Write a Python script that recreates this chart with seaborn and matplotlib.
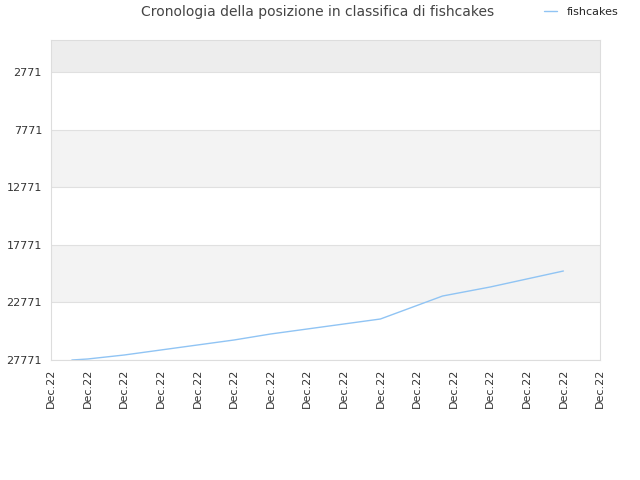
import matplotlib
matplotlib.use("Agg")
import matplotlib.pyplot as plt
import seaborn as sns
import pandas as pd

x_pos = [0.57, 1, 2, 3, 4, 5, 6, 7, 8, 9, 10.7, 12, 13, 14]
ranks = [27771, 27684, 27337, 26903, 26469, 26035, 25514, 25080, 24646, 24212, 22215, 21434, 20739, 20045]
yticks = [2771, 7771, 12771, 17771, 22771, 27771]
xlabels = ["Dec.22"] * 16

df = pd.DataFrame({"x": x_pos, "rank": ranks})
sns.set_style("white")
fig = plt.figure(figsize=(6.4, 4.8), dpi=100)
ax = fig.add_axes([51/640, 1-360/480, 549/640, 320/480])
ax.set_ylim(27771, -7)
ax.set_xlim(0, 15)
bands = [(-7, 2771, "#ededed"), (7771, 12771, "#f3f3f3"), (17771, 22771, "#f3f3f3")]
for a, b, c in bands:
    ax.axhspan(a, b, color=c, zorder=0, lw=0)
for t in yticks:
    ax.axhline(t, color="#e0e0e0", lw=0.8, zorder=1)
sns.lineplot(data=df, x="x", y="rank", ax=ax, color="#90c4f4", lw=1, label="fishcakes", legend=False)
ax.set_yticks(yticks)
ax.set_yticklabels([str(t) for t in yticks], fontsize=8, color="#333333")
ax.set_xticks(range(16))
ax.set_xticklabels(xlabels, rotation=90, fontsize=8, color="#333333")
ax.tick_params(axis="both", length=3, color="#cccccc")
ax.set_xlabel(""); ax.set_ylabel("")
for s in ax.spines.values():
    s.set_color("#dddddd"); s.set_linewidth(0.8)
fig.text(318/640, 1-12/480, "Cronologia della posizione in classifica di fishcakes", ha="center", va="center", fontsize=10, color="#444444")
h, l = ax.get_legend_handles_labels()
fig.legend(h, l, loc="center right", bbox_to_anchor=(628/640, 1-12/480), frameon=False, fontsize=8, handlelength=1.2)
fig.savefig("out.png", dpi=100)
